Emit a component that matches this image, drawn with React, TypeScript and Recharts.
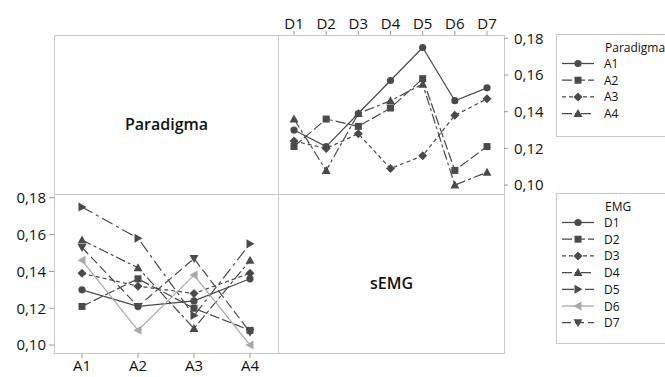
import { LineChart, Line, XAxis, YAxis } from "recharts";

// factor levels
const paradigma = ["A1", "A2", "A3", "A4"];
const emg = ["D1", "D2", "D3", "D4", "D5", "D6", "D7"];
const yTicks = [0.1, 0.12, 0.14, 0.16, 0.18];

// mean sEMG per paradigma level, one value per EMG level D1..D7
const meanA1 = [0.130, 0.121, 0.139, 0.157, 0.175, 0.146, 0.153];
const meanA2 = [0.121, 0.136, 0.132, 0.142, 0.158, 0.108, 0.121];
const meanA3 = [0.124, 0.120, 0.128, 0.109, 0.116, 0.138, 0.147];
const meanA4 = [0.136, 0.108, 0.139, 0.146, 0.155, 0.100, 0.107];

const rows = [meanA1, meanA2, meanA3, meanA4];

const DARK = "#4a4a4a";
const LIGHT = "#a8a8a8";
const BORDER = "#c8c8c8";
const FONT = "'Open Sans', 'Noto Sans', sans-serif";

type Shape = "circle" | "square" | "diamond" | "up" | "right" | "left" | "down";

const aStyles: { shape: Shape; dash?: string; color: string }[] = [
  { shape: "circle", color: DARK },
  { shape: "square", dash: "10 3", color: DARK },
  { shape: "diamond", dash: "4 3", color: DARK },
  { shape: "up", dash: "10 3 3 3", color: DARK },
];

const dStyles: { shape: Shape; dash?: string; color: string }[] = [
  { shape: "circle", color: DARK },
  { shape: "square", dash: "10 3", color: DARK },
  { shape: "diamond", dash: "4 3", color: DARK },
  { shape: "up", dash: "10 3 3 3", color: DARK },
  { shape: "right", dash: "12 4 3 4", color: DARK },
  { shape: "left", color: LIGHT },
  { shape: "down", dash: "9 4", color: DARK },
];

// top-right panel: x = EMG, one line per paradigma
const topData = emg.map((d, j) => {
  const o: any = { emg: d };
  paradigma.forEach((a, i) => { o[a] = rows[i][j]; });
  return o;
});

// bottom-left panel: x = paradigma, one line per EMG
const bottomData = paradigma.map((a, i) => {
  const o: any = { par: a };
  emg.forEach((d, j) => { o[d] = rows[i][j]; });
  return o;
});

function Marker({ cx, cy, shape, color }: { cx: number; cy: number; shape: Shape; color: string }) {
  const s = 4;
  switch (shape) {
    case "circle":
      return <circle cx={cx} cy={cy} r={3.6} fill={color} />;
    case "square":
      return <rect x={cx - 3.5} y={cy - 3.5} width={7} height={7} fill={color} />;
    case "diamond":
      return <polygon points={`${cx},${cy - s - 0.5} ${cx + s + 0.5},${cy} ${cx},${cy + s + 0.5} ${cx - s - 0.5},${cy}`} fill={color} />;
    case "up":
      return <polygon points={`${cx},${cy - s - 0.5} ${cx + s + 0.5},${cy + s - 0.5} ${cx - s - 0.5},${cy + s - 0.5}`} fill={color} />;
    case "down":
      return <polygon points={`${cx},${cy + s + 0.5} ${cx + s + 0.5},${cy - s + 0.5} ${cx - s - 0.5},${cy - s + 0.5}`} fill={color} />;
    case "right":
      return <polygon points={`${cx + s + 0.5},${cy} ${cx - s + 0.5},${cy - s - 0.5} ${cx - s + 0.5},${cy + s + 0.5}`} fill={color} />;
    case "left":
      return <polygon points={`${cx - s - 0.5},${cy} ${cx + s - 0.5},${cy - s - 0.5} ${cx + s - 0.5},${cy + s + 0.5}`} fill={color} />;
  }
  return null;
}

const fmt = (v: number) => v.toFixed(2).replace(".", ",");
const tickStyle = { fill: "#111", fontSize: 15, fontFamily: FONT };

function LegendBox({ top, height, title, items, styles }: { top: number; height: number; title: string; items: string[]; styles: typeof dStyles }) {
  return (
    <div style={{ position: "absolute", left: 556, top, width: 130, height, border: `1px solid ${BORDER}`, boxSizing: "border-box" }}>
      <svg width={130} height={height} style={{ position: "absolute", left: -1, top: -1 }}>
        <text x={49} y={13} dominantBaseline="central" fontSize={12} fontFamily={FONT} fill="#111">{title}</text>
        {items.map((it, i) => {
          const y = 29.5 + i * 16.7;
          const st = styles[i];
          return (
            <g key={it}>
              <line x1={6} x2={38} y1={y} y2={y} stroke={st.color} strokeWidth={1.3} strokeDasharray={st.dash} />
              <Marker cx={22} cy={y} shape={st.shape} color={st.color} />
              <text x={48} y={y} dominantBaseline="central" fontSize={12} fontFamily={FONT} fill="#111">{it}</text>
            </g>
          );
        })}
      </svg>
    </div>
  );
}

export default function App() {
  return (
    <div style={{ position: "absolute", left: 0, top: 0, width: 665, height: 377, background: "#fff", fontFamily: FONT, overflow: "hidden" }}>
      {/* matrix frame */}
      <div style={{ position: "absolute", left: 54, top: 35, width: 451, height: 319, border: `1px solid ${BORDER}`, boxSizing: "border-box" }} />
      <div style={{ position: "absolute", left: 278, top: 35, width: 1, height: 319, background: BORDER }} />
      <div style={{ position: "absolute", left: 54, top: 194, width: 451, height: 1, background: BORDER }} />
      <div style={{ position: "absolute", left: 54, width: 225, top: 113, textAlign: "center", fontSize: 16, fontWeight: 600, color: "#111" }}>Paradigma</div>
      <div style={{ position: "absolute", left: 279, width: 225, top: 272, textAlign: "center", fontSize: 16, fontWeight: 600, color: "#111" }}>sEMG</div>

      <div style={{ position: "absolute", left: 0, top: 0 }}>
        <LineChart width={665} height={377} data={topData} margin={{ top: 5, left: 279, right: 101, bottom: 182 }}>
          <XAxis dataKey="emg" orientation="top" height={30} axisLine={false} tickSize={4} tickLine={{ stroke: "#999" }} tick={tickStyle} padding={{ left: 15, right: 17 }} interval={0} />
          <YAxis orientation="right" width={60} domain={[0.0946, 0.1818]} ticks={yTicks} tickFormatter={fmt} axisLine={false} tickSize={4} tickMargin={6} tickLine={{ stroke: "#999" }} tick={tickStyle} allowDataOverflow />
          {paradigma.map((a, i) => (
            <Line key={a} dataKey={a} stroke={aStyles[i].color} strokeWidth={1.2} strokeDasharray={aStyles[i].dash} isAnimationActive={false}
              dot={(p: any) => <Marker key={`${a}-${p.index}`} cx={p.cx} cy={p.cy} shape={aStyles[i].shape} color={aStyles[i].color} />} activeDot={false} />
          ))}
        </LineChart>
      </div>

      <div style={{ position: "absolute", left: 0, top: 0 }}>
        <LineChart width={665} height={377} data={bottomData} margin={{ top: 195, left: 4, right: 386, bottom: 0 }}>
          <XAxis dataKey="par" height={24} axisLine={false} tickSize={5} tickLine={{ stroke: "#999" }} tick={tickStyle} padding={{ left: 28, right: 29 }} interval={0} />
          <YAxis width={50} domain={[0.0957, 0.1815]} ticks={yTicks} tickFormatter={fmt} axisLine={false} tickSize={5} tickMargin={3} tickLine={{ stroke: "#999" }} tick={tickStyle} allowDataOverflow />
          {emg.map((d, j) => (
            <Line key={d} dataKey={d} stroke={dStyles[j].color} strokeWidth={1.2} strokeDasharray={dStyles[j].dash} isAnimationActive={false}
              dot={(p: any) => <Marker key={`${d}-${p.index}`} cx={p.cx} cy={p.cy} shape={dStyles[j].shape} color={dStyles[j].color} />} activeDot={false} />
          ))}
        </LineChart>
      </div>

      <LegendBox top={34} height={103} title="Paradigma" items={paradigma} styles={aStyles} />
      <LegendBox top={193} height={151} title="EMG" items={emg} styles={dStyles} />
    </div>
  );
}
